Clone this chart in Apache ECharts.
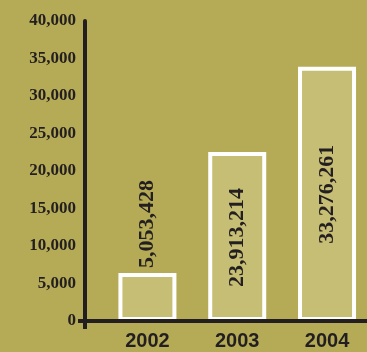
<!DOCTYPE html>
<html>
<head>
<meta charset="utf-8">
<script src="https://cdn.jsdelivr.net/npm/echarts@6/dist/echarts.min.js"></script>
<style>
html,body{margin:0;padding:0;background:#b5ab57;}
#c{width:367px;height:352px;}
</style>
</head>
<body>
<div id="c"></div>
<script>
// Data (bar heights in thousands, as drawn in the picture)
const years = [2002, 2003, 2004];
const values = [6400, 22530, 33910];
const labelTexts = ['5,053,428', '23,913,214', '33,276,261'];
const yTicks = [0, 5000, 10000, 15000, 20000, 25000, 30000, 35000, 40000];

const dark = '#231f20';
const xMin = 2001.305, xMax = 2004.445;

const labelPlacement = [
  {position: 'top', distance: 5, align: 'left'},
  {position: 'insideTop', distance: 36, align: 'right'},
  {position: 'insideTop', distance: 78, align: 'right'}
];

const chart = echarts.init(document.getElementById('c'));
chart.setOption({
  backgroundColor: '#b5ab57',
  animation: false,
  grid: {left: 85, right: 0, top: 21, bottom: 31},
  xAxis: {
    type: 'value', min: xMin, max: xMax, z: 5,
    splitLine: {show: false},
    axisLine: {show: true, lineStyle: {color: dark, width: 4}},
    axisTick: {show: true, customValues: [xMin], length: 8, inside: false, lineStyle: {color: dark, width: 4}},
    axisLabel: {
      customValues: years, margin: 10,
      formatter: v => String(Math.round(v)),
      fontFamily: 'Liberation Sans', fontWeight: 'bold', fontSize: 20, color: dark
    }
  },
  yAxis: {
    type: 'value', min: 0, max: 40000, interval: 5000, z: 5,
    splitLine: {show: false},
    axisLine: {show: true, lineStyle: {color: dark, width: 4}},
    axisTick: {show: true, customValues: [0], length: 7, lineStyle: {color: dark, width: 4}},
    axisLabel: {
      customValues: yTicks, margin: 9,
      formatter: v => v.toLocaleString('en-US'),
      fontFamily: 'Liberation Serif', fontWeight: 'bold', fontSize: 17, color: dark
    }
  },
  series: [{
    type: 'bar',
    barWidth: 58,
    itemStyle: {color: '#c7be75', borderColor: '#ffffff', borderWidth: 4},
    data: years.map((y, i) => ({
      value: [y, values[i]],
      label: {
        show: true,
        position: labelPlacement[i].position,
        distance: labelPlacement[i].distance,
        rotate: 90,
        align: labelPlacement[i].align,
        verticalAlign: 'middle',
        formatter: labelTexts[i],
        fontFamily: 'Liberation Serif', fontWeight: 'bold', fontSize: 22, color: dark
      }
    }))
  }]
});
</script>
</body>
</html>
